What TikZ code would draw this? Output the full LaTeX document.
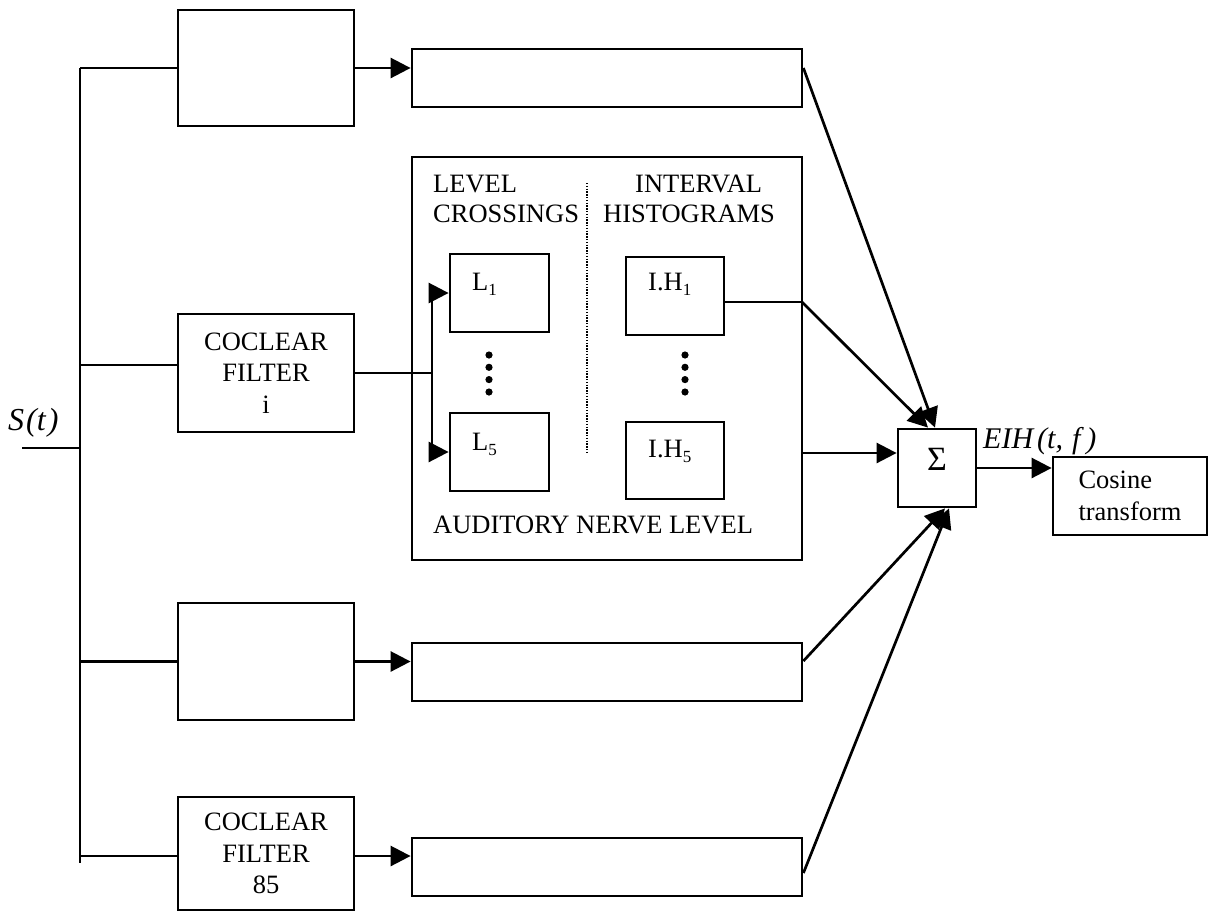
\documentclass[tikz,border=0pt]{standalone}
\usepackage{fontspec}
\setmainfont{Liberation Serif}
\usetikzlibrary{arrows.meta}
\newcommand{\lsub}[1]{\raisebox{-5pt}{\fontsize{17}{17}\selectfont #1}}
\begin{document}
\begin{tikzpicture}[x=1pt,y=-1pt,
  every node/.style={font=\fontsize{26.5}{31.5}\selectfont},
  blk/.style={draw, line width=2.8pt, inner sep=0pt, align=center},
  wire/.style={line width=2.7pt},
  arr/.style={line width=2.7pt, -{Triangle[length=20pt,width=20pt]}},
  txt/.style={inner sep=0pt, anchor=base west},
  ]
\useasboundingbox (0,0) rectangle (1214,913);
% filter boxes
\node[blk, minimum width=176pt, minimum height=116pt] (f1) at (266,68) {};
\node[blk, minimum width=176pt, minimum height=118pt] (fi) at (266,373) {COCLEAR\\FILTER\\i};
\node[blk, minimum width=176pt, minimum height=117pt] (f3) at (266,661.5) {};
\node[blk, minimum width=176pt, minimum height=113pt] (f85) at (266,853.5) {COCLEAR\\FILTER\\85};
% long boxes
\node[blk, minimum width=390pt, minimum height=58pt] (r1) at (607,78) {};
\node[blk, minimum width=390pt, minimum height=58pt] (r3) at (607,672) {};
\node[blk, minimum width=390pt, minimum height=58pt] (r4) at (607,867) {};
\node[blk, minimum width=390pt, minimum height=403pt] (big) at (607,358.5) {};
% inner boxes
\node[blk, minimum width=99pt, minimum height=78pt] (L1) at (499.5,293) {};
\node[blk, minimum width=99pt, minimum height=78pt] (L5) at (499.5,452) {};
\node[blk, minimum width=98pt, minimum height=78pt] (IH1) at (675,296) {};
\node[blk, minimum width=98pt, minimum height=77pt] (IH5) at (675,460.5) {};
\node[txt] (tL1) at (472,290) {L\lsub{1}};
\node[txt] (tL5) at (472,450) {L\lsub{5}};
\node[txt] (tIH1) at (648,290) {I.H\lsub{1}};
\node[txt] (tIH5) at (648,457) {I.H\lsub{5}};
\node[txt] (tlev) at (433,192) {LEVEL};
\node[txt] (tcro) at (433,222) {CROSSINGS};
\node[txt] (tint) at (635,192) {INTERVAL};
\node[txt] (this) at (603,222) {HISTOGRAMS};
\node[txt] (taud) at (433,533) {AUDITORY NERVE LEVEL};
\draw[line width=1.2pt, dash pattern=on 1.4pt off 1.4pt] (587,183) -- (587,453);
\foreach \yy in {355,367.3,379.6,392} {
  \fill (489,\yy) circle (3.6pt);
  \fill (685,\yy) circle (3.6pt);
}
% sum and cosine
\node[blk, minimum width=78pt, minimum height=78pt] (sig) at (937,468) {};
\node[inner sep=0pt, anchor=base, font=\fontsize{34}{34}\selectfont] (tsig) at (937,470) {Σ};
\node[blk, minimum width=154pt, minimum height=78pt, align=left] (cos) at (1130,496) {Cosine\\transform};
\node[txt, font=\fontsize{30}{34}\selectfont] (teih) at (983,448) {\itshape EIH\hspace{4pt}(t,\hspace{9pt}f\hspace{6pt})};
\node[txt, font=\fontsize{32}{36}\selectfont] (tst) at (8,430) {\itshape S\hspace{2pt}(t\hspace{2pt})};
% bus
\coordinate (sin) at (22,448);
\coordinate (sj) at (80,448);
\coordinate (bt) at (80,68);
\coordinate (bb) at (80,863);
\draw[wire] (sin) -- (sj);
\draw[wire] (bt) -- (bb);
\draw[wire] (bt) -- (f1.west);
\draw[wire] ([yshift=8pt]fi.west) -- ++(-98,0);
\draw[wire] (f3.west) -- ++(-98,0);
\draw[wire] ([yshift=-2.5pt]f85.west) -- ++(-98,0);
% filter to long boxes
\draw[arr] (f1.east) -- (f1.east -| r1.west);
\draw[arr] (f3.east) -- (f3.east -| r3.west);
\draw[arr] ([yshift=-2.5pt]f85.east) -- ([yshift=-2.5pt]f85.east -| r4.west);
% middle split
\coordinate (split) at (432,373);
\draw[wire] (fi.east) -- (split);
\draw[arr] (split) |- (L1.west);
\draw[arr] (split) |- (L5.west);
% to sum
\coordinate (o1) at (802,302);
\draw[wire] (IH1.east |- o1) -- (o1);
\draw[arr] (o1) -- ([xshift=-9pt]sig.north);
\draw[arr] ([yshift=10pt]r1.east) -- ([xshift=-2pt]sig.north);
\draw[arr] ([yshift=15pt]sig.west -| big.east) -- ([yshift=15pt]sig.west);
\draw[arr] ([yshift=11pt]r3.east) -- ([xshift=8pt]sig.south);
\draw[arr] ([yshift=-6pt]r4.east) -- ([xshift=12pt]sig.south);
\draw[arr] (sig.east) -- (sig.east -| cos.west);
\end{tikzpicture}
\end{document}
